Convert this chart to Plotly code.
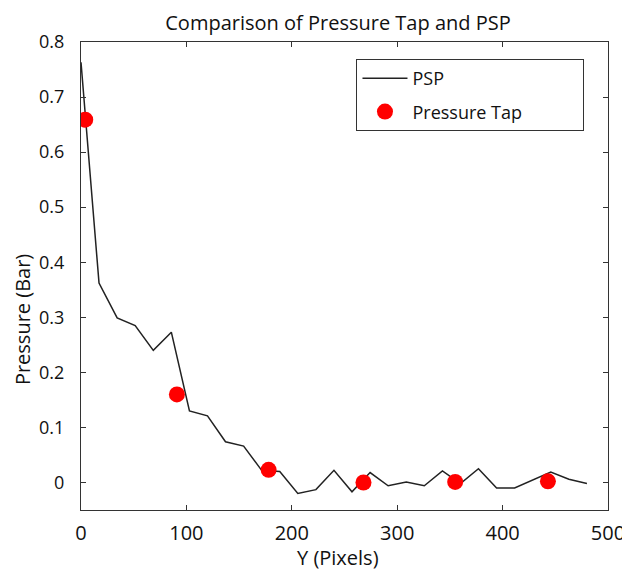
import plotly.graph_objects as go

# PSP profile (Y pixels vs pressure in bar)
psp_x = [0, 17.1, 34.3, 51.4, 68.6, 85.7, 102.9, 120, 137.1, 154.3, 171.4, 188.6,
         205.7, 222.9, 240, 257.1, 274.3, 291.4, 308.6, 325.7, 342.9, 360, 377.1,
         394.3, 411.4, 428.6, 445.7, 462.9, 480]
psp_y = [0.763, 0.362, 0.299, 0.285, 0.240, 0.273, 0.130, 0.121, 0.074, 0.066, 0.022, 0.020,
         -0.020, -0.013, 0.022, -0.017, 0.018, -0.006, 0.001, -0.006, 0.021, -0.002, 0.025,
         -0.010, -0.010, 0.005, 0.019, 0.006, -0.002]

# Pressure tap measurements
tap_x = [4, 91, 178, 268, 355, 443]
tap_y = [0.659, 0.160, 0.023, 0.000, 0.001, 0.002]

x_ticks = [0, 100, 200, 300, 400, 500]
y_ticks = [0, 0.1, 0.2, 0.3, 0.4, 0.5, 0.6, 0.7, 0.8]

FONT = "Open Sans"
TXT = "#111111"
NB = "\u00a0"

fig = go.Figure()
fig.add_trace(go.Scatter(x=psp_x, y=psp_y, mode="lines", name="PSP", legendgroup="a",
                         line=dict(color="#222222", width=1.5)))
fig.add_trace(go.Scatter(x=tap_x, y=tap_y, mode="markers", name="Pressure Tap" + NB * 12,
                         legendgroup="b",
                         marker=dict(color="#ff0000", size=16, line=dict(width=0))))

axis_common = dict(showgrid=False, zeroline=False, showline=True, linecolor="#333333",
                   linewidth=1, mirror="ticks", ticks="inside", ticklen=5,
                   tickcolor="#333333", automargin=False)

W, H = 622, 563
L, R, T, B = 73, 22, 34, 61
plot_h = H - T - B

fig.update_layout(
    width=W, height=H,
    margin=dict(l=L, r=R, t=T, b=B),
    paper_bgcolor="white", plot_bgcolor="white",
    title=dict(text="Comparison of Pressure Tap and PSP", x=330 / W, xanchor="center",
               y=1 - 15 / H, yanchor="middle",
               font=dict(family=FONT, size=20, color=TXT)),
    xaxis=dict(range=[0, 500], tickvals=x_ticks, ticklabelstandoff=5,
               tickfont=dict(family=FONT, size=20, color=TXT),
               **axis_common),
    yaxis=dict(range=[-0.05, 0.8], tickvals=y_ticks, ticklabelstandoff=12,
               tickfont=dict(family=FONT, size=18, color=TXT),
               **axis_common),
    legend=dict(x=(349 - L) / 528, y=1 - (51 - T) / plot_h, xanchor="left", yanchor="top",
                bordercolor="#333333", borderwidth=1, bgcolor="white",
                font=dict(family=FONT, size=18, color=TXT),
                itemwidth=45, tracegroupgap=7),
    annotations=[
        dict(text="Pressure (Bar)", textangle=-90, xref="paper", yref="paper",
             x=(14 - L) / 528, y=(H - B - 312) / plot_h,
             xanchor="center", yanchor="middle",
             showarrow=False, font=dict(family=FONT, size=20, color=TXT)),
        dict(text="Y (Pixels)", xref="paper", yref="paper",
             x=(330 - L) / 528, y=(H - B - 549) / plot_h,
             xanchor="center", yanchor="middle",
             showarrow=False, font=dict(family=FONT, size=20, color=TXT)),
    ],
    showlegend=True,
)

fig.write_html("out.html")
